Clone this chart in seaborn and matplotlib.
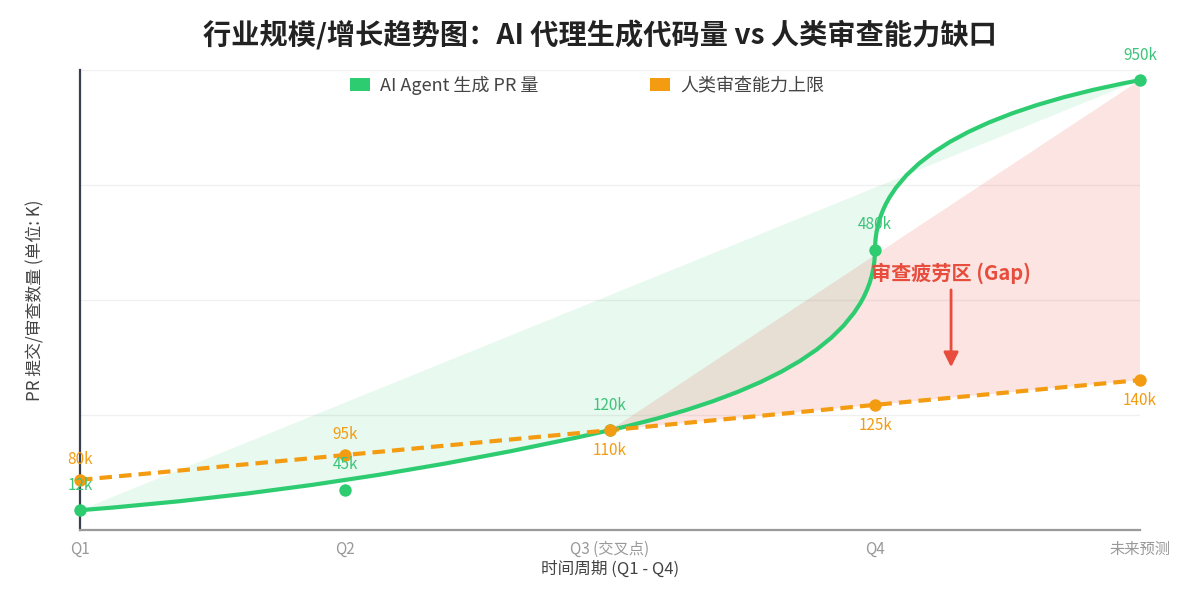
import numpy as np
import pandas as pd
import matplotlib
matplotlib.use("Agg")
import matplotlib.pyplot as plt
import seaborn as sns
from matplotlib.path import Path
from matplotlib.patches import PathPatch, Patch

# ---------------- data ----------------
categories = ["Q1", "Q2", "Q3 (交叉点)", "Q4", "未来预测"]
# plotted heights on the chart's (unlabelled) vertical scale
ai_pr = [43, 87, 217, 609, 978]
ai_pr_labels = ["12k", "45k", "120k", "480k", "950k"]
review_cap = [109, 163, 217, 272, 326]
review_cap_labels = ["80k", "95k", "110k", "125k", "140k"]
review_label_below = [False, False, True, True, True]

series_names = ["AI Agent 生成 PR 量", "人类审查能力上限"]
title = "行业规模/增长趋势图：AI 代理生成代码量 vs 人类审查能力缺口"
gap_text = "审查疲劳区 (Gap)"

GREEN = "#2ecc71"
ORANGE = "#f39c12"
RED = "#e74c3c"

sns.set_theme(style="white")
plt.rcParams["font.family"] = ["Noto Sans CJK SC", "DejaVu Sans"]

df = pd.DataFrame({"x": np.arange(len(categories)), "ai": ai_pr, "cap": review_cap})

fig = plt.figure(figsize=(12, 6), dpi=100)
ax = fig.add_axes([80 / 1200, 70 / 600, 1060 / 1200, 460 / 600])
ax.set_xlim(0, len(categories) - 1)
ax.set_ylim(0, 1000)

# grid
ax.set_yticks([250, 500, 750, 1000])
ax.set_yticklabels([])
ax.yaxis.grid(True, color="#f0f0f0", lw=1)
ax.xaxis.grid(False)
ax.set_axisbelow(True)
ax.tick_params(axis="both", length=0)
for s in ["top", "right"]:
    ax.spines[s].set_visible(False)
ax.spines["left"].set_color("#3a3e4c")
ax.spines["left"].set_linewidth(1.6)
ax.spines["bottom"].set_color("#9a9a9a")
ax.spines["bottom"].set_linewidth(1.6)

# green smooth path (quadratic Bezier chain through the data)
P = list(zip(df["x"].astype(float), df["ai"].astype(float)))
c1 = P[1]
c2 = (2 * P[2][0] - c1[0], 2 * P[2][1] - c1[1])
c3 = (2 * P[3][0] - c2[0], 2 * P[3][1] - c2[1])
verts = [P[0], c1, P[2], c2, P[3], c3, P[4]]
codes = [Path.MOVETO] + [Path.CURVE3] * 6
fill_path = Path(verts + [P[0]], codes + [Path.CLOSEPOLY])
ax.add_patch(PathPatch(fill_path, facecolor=GREEN, alpha=0.11, lw=0, zorder=1, clip_on=False))

# gap polygon (from crossing to future)
gx = [2, 4, 4, 3, 2]
gy = [ai_pr[2], ai_pr[4], review_cap[4], review_cap[3], review_cap[2]]
ax.fill(gx, gy, color=RED, alpha=0.15, lw=0, zorder=1, clip_on=False)

line_path = Path(verts, codes)
ax.add_patch(PathPatch(line_path, facecolor="none", edgecolor=GREEN, lw=3, zorder=3,
                       capstyle="round", clip_on=False))

# orange dashed line
sns.lineplot(data=df, x="x", y="cap", ax=ax, color=ORANGE, lw=3, zorder=4, legend=False)
ln = ax.lines[-1]
ln.set_linestyle((0, (3.0, 1.7)))
ln.set_clip_on(False)

# points
sns.scatterplot(data=df, x="x", y="ai", ax=ax, color=GREEN, s=80, linewidth=0, zorder=5,
                clip_on=False, legend=False)
sns.scatterplot(data=df, x="x", y="cap", ax=ax, color=ORANGE, s=80, linewidth=0, zorder=6,
                clip_on=False, legend=False)

# value labels
for xi, yi, t in zip(df["x"], ai_pr, ai_pr_labels):
    ax.annotate(t, (xi, yi), xytext=(0, 18), textcoords="offset points", ha="center",
                va="center", fontsize=11, color="#3cc47a", zorder=7, annotation_clip=False)
for xi, yi, t, below in zip(df["x"], review_cap, review_cap_labels, review_label_below):
    ax.annotate(t, (xi, yi), xytext=(0, -14.5 if below else 15), textcoords="offset points",
                ha="center", va="center", fontsize=11, color=ORANGE, zorder=7,
                annotation_clip=False)

# gap annotation
ax.text(3.287, 559, gap_text, ha="center", va="center", fontsize=14.5, fontweight="bold",
        color=RED, zorder=8)
ax.annotate("", xy=(3.287, 354), xytext=(3.287, 522),
            arrowprops=dict(arrowstyle="-|>", color=RED, lw=2, mutation_scale=22,
                            shrinkA=0, shrinkB=0), zorder=8)

# axes text
ax.set_xticks(df["x"])
ax.set_xticklabels(categories, fontsize=11, color="#999999")
ax.tick_params(axis="x", pad=8)
ax.set_xlabel("时间周期 (Q1 - Q4)", fontsize=12, color="#444444", labelpad=2)
ax.set_ylabel("PR 提交/审查数量 (单位: K)", fontsize=12.2, color="#444444", labelpad=22)

# legend
handles = [Patch(facecolor=GREEN, edgecolor="none"), Patch(facecolor=ORANGE, edgecolor="none")]
fig.legend(handles, series_names, loc="center", bbox_to_anchor=(587 / 1200, 1 - 85 / 600),
           ncol=2, frameon=False, fontsize=13, handlelength=1.1, handleheight=0.7,
           handletextpad=0.55, columnspacing=6.2, labelcolor="#444444")

fig.text(0.5, 1 - 35 / 600, title, ha="center", va="center", fontsize=20.3,
         fontweight="bold", color="#222222")

fig.savefig("out.png", dpi=100, facecolor="white")
